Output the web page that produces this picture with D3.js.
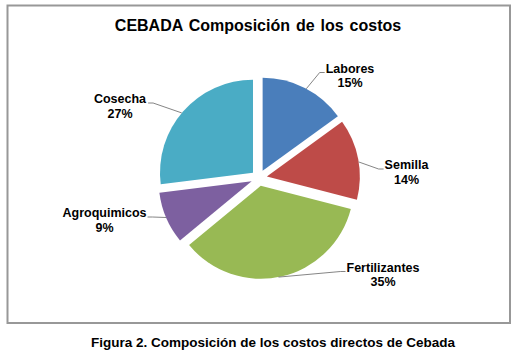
<!DOCTYPE html>
<html><head><meta charset="utf-8">
<script src="https://cdn.jsdelivr.net/npm/d3@7"></script>
<style>body{margin:0;background:#fff}svg{display:block}</style>
</head><body>
<script>
const categories = ["Labores", "Semilla", "Fertilizantes", "Agroquimicos", "Cosecha"];
const values = [15, 14, 35, 9, 27];
const colors = ["#4A7EBB", "#BE4B48", "#98B954", "#7D60A0", "#4AACC5"];
const title = "CEBADA Composición de los costos";
const caption = "Figura 2. Composición de los costos directos de Cebada";

// label layout (text centre x, first-line baseline y, side, leader angle in degrees)
const labelLayout = [
  {x: 350, y: 72.5, side: "right", ang: 28},
  {x: 406.5, y: 169, side: "right", ang: 81},
  {x: 383, y: 271.5, side: "right", ang: 169},
  {x: 104.5, y: 217, side: "left", ang: 247},
  {x: 120, y: 103, side: "left", ang: 310}
];

const W = 523, H = 356;
const svg = d3.select("body").append("svg").attr("width", W).attr("height", H);

svg.append("rect").attr("x", 7.5).attr("y", 5.5).attr("width", 502.5).attr("height", 317.5)
  .attr("fill", "#fff").attr("stroke", "#989898").attr("stroke-width", 2);

svg.append("text").attr("x", 258).attr("y", 30.5).attr("text-anchor", "middle")
  .attr("font-family", "Liberation Sans, Arial, sans-serif").attr("font-weight", "bold")
  .attr("font-size", 16).attr("word-spacing", 1.5).text(title);

svg.append("text").attr("x", 273).attr("y", 347).attr("text-anchor", "middle")
  .attr("font-family", "Liberation Sans, Arial, sans-serif").attr("font-weight", "bold")
  .attr("font-size", 13.5).text(caption);

const cx = 259, cy = 178, R = 93, explode = 8;
const pie = d3.pie().sort(null).value(d => d)(values);
const arc = d3.arc().innerRadius(0).outerRadius(R);
const g = svg.append("g").attr("transform", `translate(${cx},${cy})`);

pie.forEach((p, i) => {
  const mid = (p.startAngle + p.endAngle) / 2;
  const ox = explode * Math.sin(mid), oy = -explode * Math.cos(mid);
  g.append("path").attr("d", arc(p)).attr("transform", `translate(${ox},${oy})`)
    .attr("fill", colors[i]);

  const L = labelLayout[i];
  const a = L.ang * Math.PI / 180;
  const sx = cx + ox + R * Math.sin(a), sy = cy + oy - R * Math.cos(a);

  const t = svg.append("text").attr("text-anchor", "middle")
    .attr("font-family", "Liberation Sans, Arial, sans-serif").attr("font-weight", "bold")
    .attr("font-size", 12.5).attr("fill", "#000");
  t.append("tspan").attr("x", L.x).attr("y", L.y).text(categories[i]);
  t.append("tspan").attr("x", L.x).attr("y", L.y + 14.5).text(Math.round(p.value / d3.sum(values) * 100) + "%");

  const bb = t.node().getBBox();
  const ex = L.side === "right" ? bb.x - 1 : bb.x + bb.width + 1;
  const ey = L.y;
  const kx = L.side === "right" ? ex - 5 : ex + 5;
  svg.append("polyline").attr("points", `${sx},${sy} ${kx},${ey} ${ex},${ey}`)
    .attr("fill", "none").attr("stroke", "#666").attr("stroke-width", 0.8);
});
</script>
</body></html>
